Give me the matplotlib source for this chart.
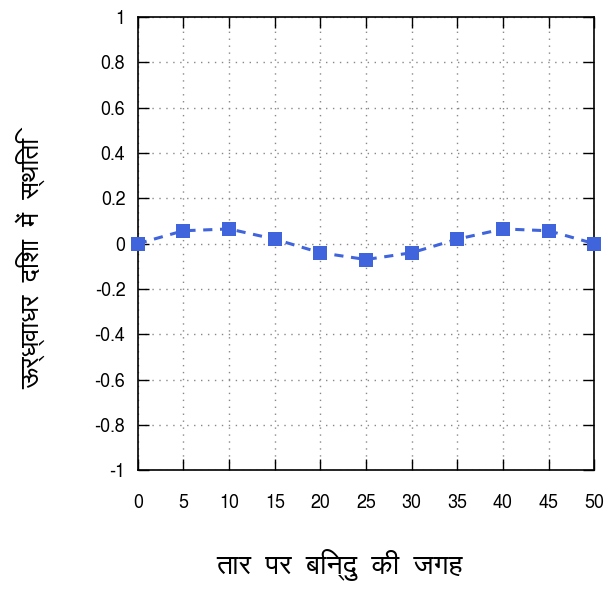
import matplotlib
matplotlib.use("Agg")
import matplotlib.pyplot as plt

# data
positions = [0, 5, 10, 15, 20, 25, 30, 35, 40, 45, 50]
displacement = [0.0, 0.057, 0.065, 0.02, -0.04, -0.07, -0.04, 0.02, 0.065, 0.057, 0.0]
xticks = list(range(0, 51, 5))
yticks = [-1, -0.8, -0.6, -0.4, -0.2, 0, 0.2, 0.4, 0.6, 0.8, 1]
ytick_labels = ["-1", "-0.8", "-0.6", "-0.4", "-0.2", "0", "0.2", "0.4", "0.6", "0.8", "1"]
xlabel = "तार  पर  बिन्दु  की  जगह"
ylabel = "ऊर्ध्वाधर  दिशा  में  स्थिति"

plt.rcParams['font.family'] = ['FreeSans', 'DejaVu Sans']

fig = plt.figure(figsize=(6.07, 5.9), dpi=100)
ax = fig.add_axes([0.227, 0.203, 0.752, 0.768])

ax.plot(positions, displacement, color='#3f64dc', lw=2.2, ls=(0, (3, 2.5)),
        marker='s', markersize=10.5, markeredgewidth=0, clip_on=False, zorder=3)

ax.set_xlim(0, 50)
ax.set_ylim(-1, 1)
ax.set_xticks(xticks)
ax.set_yticks(yticks)
ax.set_yticklabels(ytick_labels)
ax.grid(True, color='#888888', lw=1, ls=(0, (1, 4)))
ax.tick_params(direction='in', length=8, width=1, top=True, right=True,
               labelsize=13)
ax.tick_params(axis='x', pad=17)
ax.tick_params(axis='y', pad=9)
for s in ax.spines.values():
    s.set_linewidth(1.2)

# axis titles placed like the gnuplot original
fig.text(0.559, 0.042, xlabel, fontsize=20.5, ha='center', va='center')
fig.text(0.05, 0.553, ylabel, fontsize=19, ha='center', va='center', rotation=90)

fig.savefig("out.png")
